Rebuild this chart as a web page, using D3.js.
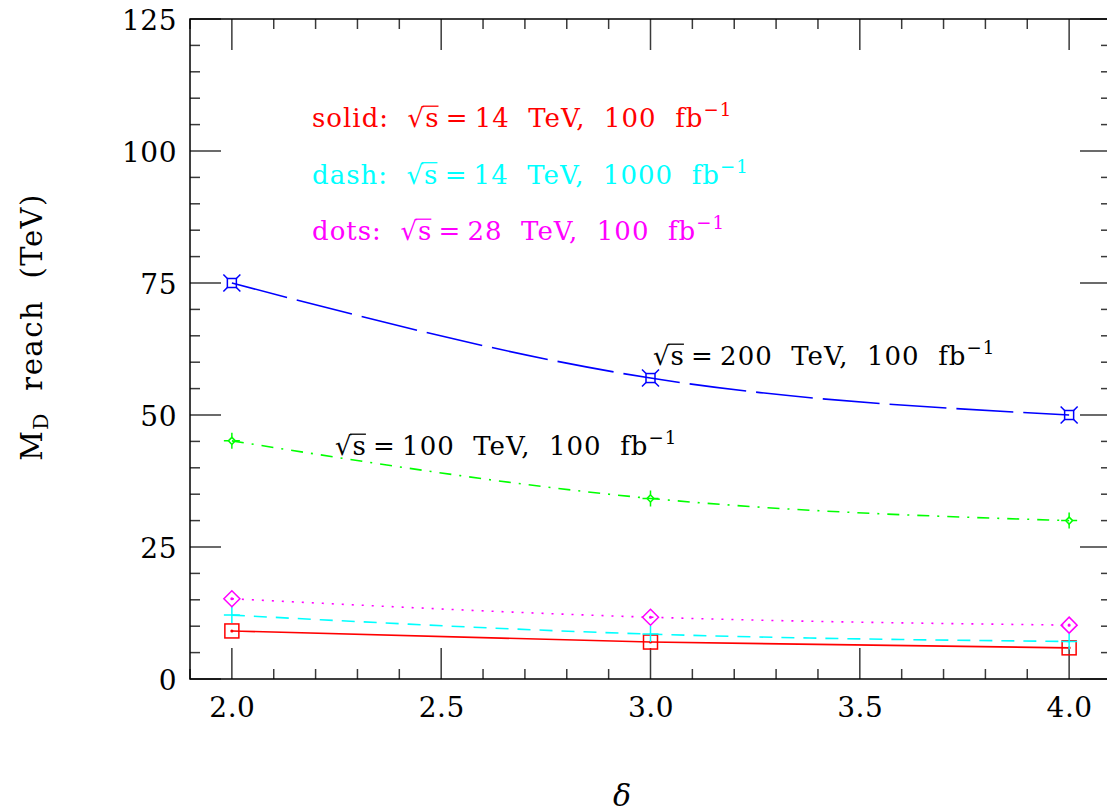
<!DOCTYPE html>
<html>
<head>
<meta charset="utf-8">
<script src="https://cdn.jsdelivr.net/npm/d3@7"></script>
<style>
  html, body { margin: 0; padding: 0; background: #fff; }
  svg text { font-family: "DejaVu Serif", serif; white-space: pre; }
</style>
</head>
<body>
<svg id="chart" width="1107" height="812"></svg>
<script>
// M_D reach versus number of extra dimensions delta
const deltas = [2.0, 3.0, 4.0];
const reach14_100 = [9.1, 7.0, 5.9];     // sqrt(s)=14 TeV, 100 fb^-1
const reach14_1000 = [12.1, 8.5, 7.1];   // sqrt(s)=14 TeV, 1000 fb^-1
const reach28_100 = [15.2, 11.7, 10.2];  // sqrt(s)=28 TeV, 100 fb^-1
const reach100_100 = [45.1, 34.2, 30.0]; // sqrt(s)=100 TeV, 100 fb^-1
const reach200_100 = [75.0, 57.0, 50.0]; // sqrt(s)=200 TeV, 100 fb^-1

const xTickLabels = ["2.0", "2.5", "3.0", "3.5", "4.0"];
const yTickLabels = ["0", "25", "50", "75", "100", "125"];

const legendLines = [
  { prefix: "solid:", energy: "14", lumi: "100", color: "#ff0000" },
  { prefix: "dash:", energy: "14", lumi: "1000", color: "#00ffff" },
  { prefix: "dots:", energy: "28", lumi: "100", color: "#ff00ff" }
];
const curveLabels = [
  { energy: "200", lumi: "100", color: "#000" },
  { energy: "100", lumi: "100", color: "#000" }
];

const svg = d3.select("#chart");
const pLeft = 190, pRight = 1111, pTop = 19, pBottom = 679;

const x = d3.scaleLinear().domain([1.9, 4.1]).range([pLeft, pRight]);
const y = d3.scaleLinear().domain([0, 125]).range([pBottom, pTop]);

// ---- frame and ticks ----
const tickColor = "#3a3a3a";
const frame = svg.append("g");
const xMinor = d3.range(19, 42).map(d => d / 10);
const yMinor = d3.range(0, 126, 5);

function tickLen(isMajor) { return isMajor ? 31 : 10; }

xMinor.forEach(v => {
  const major = Math.abs(v * 2 - Math.round(v * 2)) < 1e-6;
  const L = tickLen(major);
  frame.append("line").attr("x1", x(v)).attr("x2", x(v))
    .attr("y1", pBottom).attr("y2", pBottom - L)
    .attr("stroke", tickColor).attr("stroke-width", 1.5);
  frame.append("line").attr("x1", x(v)).attr("x2", x(v))
    .attr("y1", pTop).attr("y2", pTop + L)
    .attr("stroke", tickColor).attr("stroke-width", 1.5);
});
yMinor.forEach(v => {
  const major = v % 25 === 0;
  const L = tickLen(major);
  frame.append("line").attr("x1", pLeft).attr("x2", pLeft + L)
    .attr("y1", y(v)).attr("y2", y(v))
    .attr("stroke", tickColor).attr("stroke-width", 1.5);
  frame.append("line").attr("x1", pRight).attr("x2", pRight - L)
    .attr("y1", y(v)).attr("y2", y(v))
    .attr("stroke", tickColor).attr("stroke-width", 1.5);
});
frame.append("rect").attr("x", pLeft).attr("y", pTop)
  .attr("width", pRight - pLeft).attr("height", pBottom - pTop)
  .attr("fill", "none").attr("stroke", "#000").attr("stroke-width", 1.5);

// tick labels via d3 axes (lines hidden, frame drawn above)
const xAxis = d3.axisBottom(x)
  .tickValues(xTickLabels.map(Number))
  .tickFormat((d, i) => xTickLabels[i])
  .tickSize(0).tickPadding(0);
const gx = svg.append("g").attr("transform", `translate(0,${pBottom})`).call(xAxis);
gx.select(".domain").remove();
gx.selectAll("text").attr("y", 38).attr("dy", 0)
  .attr("font-size", 28).attr("letter-spacing", 0.5)
  .attr("fill", "#000");

const yAxis = d3.axisLeft(y)
  .tickValues(yTickLabels.map(Number))
  .tickFormat((d, i) => yTickLabels[i])
  .tickSize(0).tickPadding(0);
const gy = svg.append("g").attr("transform", `translate(${pLeft},0)`).call(yAxis);
gy.select(".domain").remove();
gy.selectAll("text").attr("x", -13).attr("dy", "0.36em")
  .attr("font-size", 28).attr("letter-spacing", 0.5)
  .attr("fill", "#000");

// axis titles
const yt = svg.append("text")
  .attr("transform", "translate(42,327) rotate(-90)")
  .attr("text-anchor", "middle").attr("font-size", 29).attr("fill", "#000")
  .attr("letter-spacing", 1.5);
yt.append("tspan").text("M");
yt.append("tspan").attr("font-size", 20).attr("dy", 6).text("D");
yt.append("tspan").attr("dy", -6).text("  reach  (TeV)");

svg.append("text").attr("x", 622).attr("y", 806)
  .attr("text-anchor", "middle").attr("font-size", 30)
  .attr("font-style", "italic").attr("fill", "#000").text("δ");

// ---- curves ----
const series = [
  { values: reach14_100, color: "#ff0000", dash: null, marker: "square" },
  { values: reach14_1000, color: "#00ffff", dash: "13,9", marker: "plus" },
  { values: reach28_100, color: "#ff00ff", dash: "2,8", marker: "diamond" },
  { values: reach100_100, color: "#00ff00", dash: "12,8,2,8", marker: "diamondPlus" },
  { values: reach200_100, color: "#0000ff", dash: "57,10", marker: "squareX" }
];

const line = d3.line()
  .x((d, i) => x(deltas[i]))
  .y(d => y(d))
  .curve(d3.curveNatural);

const curves = svg.append("g");
series.forEach(s => {
  curves.append("path").datum(s.values)
    .attr("d", line)
    .attr("fill", "none")
    .attr("stroke", s.color)
    .attr("stroke-width", 1.6)
    .attr("stroke-dasharray", s.dash);
});

// ---- markers ----
function drawMarker(g, type, cx, cy, color) {
  const m = g.append("g").attr("transform", `translate(${cx},${cy})`)
    .attr("stroke", color).attr("fill", "none").attr("stroke-width", 1.5);
  if (type === "square") {
    m.append("rect").attr("x", -7).attr("y", -7).attr("width", 14).attr("height", 14);
    m.append("circle").attr("r", 0.8).attr("fill", color);
  } else if (type === "plus") {
    m.append("path").attr("d", "M-8,0H8M0,-8V8");
  } else if (type === "diamond") {
    m.append("path").attr("d", "M0,-8L8,0L0,8L-8,0Z");
    m.append("circle").attr("r", 0.8).attr("fill", color);
  } else if (type === "diamondPlus") {
    m.append("path").attr("d", "M0,-3.5L3.5,0L0,3.5L-3.5,0Z");
    m.append("path").attr("d", "M-8,0H-3.5M3.5,0H8M0,-8V-3.5M0,3.5V8");
  } else if (type === "squareX") {
    m.append("rect").attr("x", -4.5).attr("y", -4.5).attr("width", 9).attr("height", 9);
    m.append("path").attr("d", "M-4.5,-4.5L-8.5,-8.5M4.5,-4.5L8.5,-8.5M-4.5,4.5L-8.5,8.5M4.5,4.5L8.5,8.5");
  }
}
const marks = svg.append("g");
series.forEach(s => {
  s.values.forEach((v, i) => drawMarker(marks, s.marker, x(deltas[i]), y(v), s.color));
});

// ---- labels with sqrt(s) ----
function sqrtLabel(px, py, prefix, energy, lumi, color, size) {
  const t = svg.append("text").attr("x", px).attr("y", py)
    .attr("font-size", size).attr("fill", color).attr("letter-spacing", 1);
  if (prefix) t.append("tspan").text(prefix + "  ");
  const root = t.append("tspan").text("√");
  const s = t.append("tspan").text("s");
  t.append("tspan").text("\u2009=\u2009" + energy + "  TeV,  " + lumi + "  fb");
  t.append("tspan").attr("font-size", size * 0.7).attr("dy", -size * 0.42).text("−1");
  const rb = root.node().getBBox();
  const sb = s.node().getBBox();
  const yTop = py - size * 0.80;
  svg.append("line")
    .attr("x1", rb.x + rb.width - 2.5).attr("x2", sb.x + sb.width - 1)
    .attr("y1", yTop).attr("y2", yTop)
    .attr("stroke", color).attr("stroke-width", 1.3);
}

legendLines.forEach((d, i) => {
  sqrtLabel(312, 127 + i * 56.5, d.prefix, d.energy, d.lumi, d.color, 26);
});
sqrtLabel(653, 365, null, curveLabels[0].energy, curveLabels[0].lumi, curveLabels[0].color, 26);
sqrtLabel(335, 455, null, curveLabels[1].energy, curveLabels[1].lumi, curveLabels[1].color, 26);
</script>
</body>
</html>
